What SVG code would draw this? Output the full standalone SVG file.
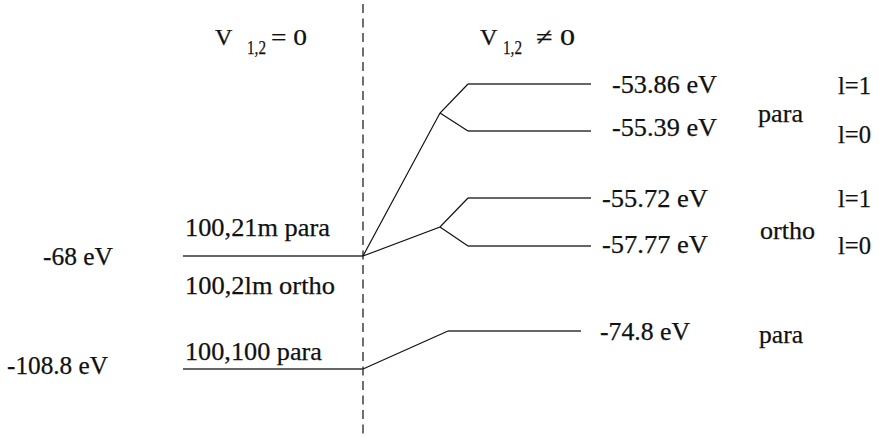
<svg xmlns="http://www.w3.org/2000/svg" width="879" height="438" viewBox="0 0 879 438">
<style>
text{font-family:"Liberation Serif","Times New Roman",Times,serif;font-size:26px;fill:#111;stroke:#111;stroke-width:0.25}
.hd{font-size:24px}
.sub{font-size:19px}
.lvl{stroke:#333;stroke-width:1.3;fill:none}
.con{stroke:#111;stroke-width:1.2;fill:none}
.dash{stroke:#222;stroke-width:1.3;stroke-dasharray:9 5.5}
</style>
<rect width="879" height="438" fill="#fff"/>
<line class="dash" x1="363" y1="4" x2="363" y2="438"/>
<g id="header-left" font-family="Liberation Serif, serif">
<text class="hd" x="215" y="45">V</text>
<text class="sub" x="247" y="54" textLength="19" lengthAdjust="spacingAndGlyphs">1,2</text>
<text class="hd" x="271" y="45" textLength="36" lengthAdjust="spacingAndGlyphs">= 0</text>
</g>
<g id="header-right" font-family="Liberation Serif, serif">
<text class="hd" x="480" y="45">V</text>
<text class="sub" x="503" y="54" textLength="19" lengthAdjust="spacingAndGlyphs">1,2</text>
<text class="hd" x="536" y="45" textLength="39" lengthAdjust="spacingAndGlyphs">≠ 0</text>
</g>
<g id="level-100-21m" font-family="Liberation Serif, serif">
<line class="lvl" x1="183" y1="256" x2="363" y2="256"/>
<text x="43" y="265" textLength="70" lengthAdjust="spacingAndGlyphs">-68 eV</text>
<text x="185" y="236" textLength="145" lengthAdjust="spacingAndGlyphs">100,21m para</text>
<text x="185" y="294" textLength="150" lengthAdjust="spacingAndGlyphs">100,2lm ortho</text>
</g>
<g id="level-100-100" font-family="Liberation Serif, serif">
<line class="lvl" x1="183" y1="369" x2="363" y2="369"/>
<text x="7" y="374" textLength="101" lengthAdjust="spacingAndGlyphs">-108.8 eV</text>
<text x="185" y="360" textLength="137" lengthAdjust="spacingAndGlyphs">100,100 para</text>
</g>
<g id="level-para-l1" font-family="Liberation Serif, serif">
<line class="lvl" x1="468" y1="84" x2="591" y2="84"/>
<text x="612" y="93" textLength="105" lengthAdjust="spacingAndGlyphs">-53.86 eV</text>
<text x="838" y="94" textLength="33" lengthAdjust="spacingAndGlyphs">l=1</text>
</g>
<g id="level-para-l0" font-family="Liberation Serif, serif">
<line class="lvl" x1="468" y1="131" x2="591" y2="131"/>
<text x="612" y="136" textLength="105" lengthAdjust="spacingAndGlyphs">-55.39 eV</text>
<text x="838" y="143" textLength="33" lengthAdjust="spacingAndGlyphs">l=0</text>
</g>
<g id="label-para" font-family="Liberation Serif, serif">
<text x="758" y="122" textLength="45" lengthAdjust="spacingAndGlyphs">para</text>
</g>
<g id="level-ortho-l1" font-family="Liberation Serif, serif">
<line class="lvl" x1="468" y1="198" x2="591" y2="198"/>
<text x="602" y="207" textLength="106" lengthAdjust="spacingAndGlyphs">-55.72 eV</text>
<text x="838" y="207" textLength="33" lengthAdjust="spacingAndGlyphs">l=1</text>
</g>
<g id="level-ortho-l0" font-family="Liberation Serif, serif">
<line class="lvl" x1="468" y1="246" x2="591" y2="246"/>
<text x="602" y="253" textLength="106" lengthAdjust="spacingAndGlyphs">-57.77 eV</text>
<text x="838" y="254" textLength="33" lengthAdjust="spacingAndGlyphs">l=0</text>
</g>
<g id="label-ortho" font-family="Liberation Serif, serif">
<text x="760" y="239" textLength="55" lengthAdjust="spacingAndGlyphs">ortho</text>
</g>
<g id="level-para-bottom" font-family="Liberation Serif, serif">
<line class="lvl" x1="448" y1="331" x2="581" y2="331"/>
<text x="600" y="340" textLength="90" lengthAdjust="spacingAndGlyphs">-74.8 eV</text>
<text x="759" y="343" textLength="44" lengthAdjust="spacingAndGlyphs">para</text>
</g>
<g id="connectors">
<polyline class="con" points="363,256 440,113 468,84"/>
<polyline class="con" points="440,113 468,131"/>
<polyline class="con" points="363,256 440,227 468,198"/>
<polyline class="con" points="440,227 468,246"/>
<polyline class="con" points="363,369 448,331"/>
</g>
</svg>
